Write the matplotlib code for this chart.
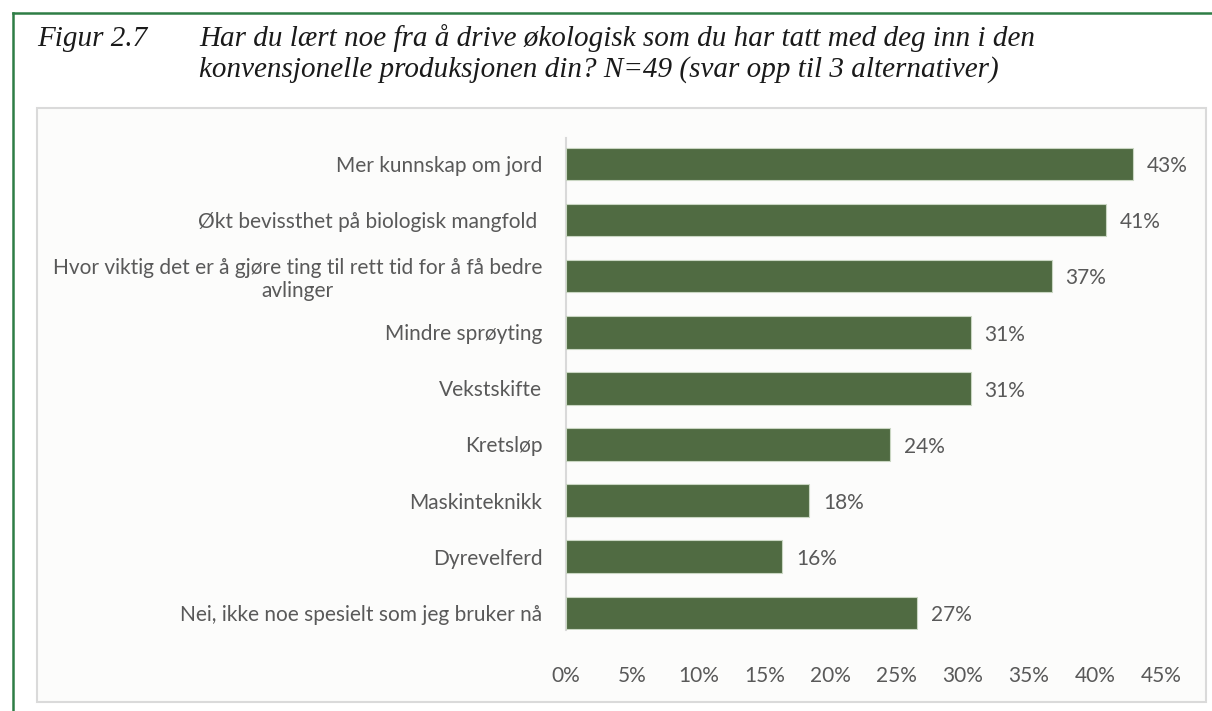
import matplotlib
matplotlib.use("Agg")
import matplotlib.pyplot as plt
from matplotlib.patches import Rectangle
from matplotlib.lines import Line2D

categories = [
    "Mer kunnskap om jord",
    "Økt bevissthet på biologisk mangfold ",
    "Hvor viktig det er å gjøre ting til rett tid for å få bedre\navlinger",
    "Mindre sprøyting",
    "Vekstskifte",
    "Kretsløp",
    "Maskinteknikk",
    "Dyrevelferd",
    "Nei, ikke noe spesielt som jeg bruker nå",
]
values = [42.86, 40.82, 36.73, 30.61, 30.61, 24.49, 18.37, 16.33, 26.53]
xticks = [0, 5, 10, 15, 20, 25, 30, 35, 40, 45]
title_fig = "Figur 2.7"
title_lines = ["Har du lært noe fra å drive økologisk som du har tatt med deg inn i den",
               "konvensjonelle produksjonen din? N=49 (svar opp til 3 alternativer)"]

W, H = 1212, 711
fig = plt.figure(figsize=(W / 100, H / 100), dpi=100)
fig.patch.set_facecolor("white")

def fx(px):
    return px / W

def fy(py):
    return 1 - py / H

# green frame
fig.add_artist(Line2D([fx(13), fx(1212)], [fy(13), fy(13)], color="#2e7d45", lw=1.8))
fig.add_artist(Line2D([fx(13), fx(13)], [fy(13), fy(711)], color="#2e7d45", lw=1.8))

# chart box
fig.add_artist(Rectangle((fx(37), fy(702)), fx(1206) - fx(37), fy(108) - fy(702),
                         facecolor="#fcfcfb", edgecolor="#dadada", lw=1.5, zorder=0))

# title
tfont = dict(family="Liberation Serif", style="italic", fontsize=21,
             color="#1a1a1a", va="baseline", ha="left")
fig.text(fx(37), fy(46), title_fig, **tfont)
fig.text(fx(199), fy(46), title_lines[0], **tfont)
fig.text(fx(199), fy(77), title_lines[1], **tfont)

x0, x1 = 566, 1161
ytop, ybot = 138, 630
ax = fig.add_axes([fx(x0), fy(ybot), fx(x1) - fx(x0), (ybot - ytop) / H])
ax.set_facecolor("none")

pos = list(range(len(categories)))
ax.barh(pos, values, height=0.58, color="#506b42", edgecolor="#c9d6c2", lw=0.8, zorder=3)

ax.set_xlim(0, 45)
step = 56.1
ax.set_ylim((ybot - 164) / step, -(164 - ytop) / step)
ax.set_xticks(xticks)
ax.set_xticklabels([f"{t}%" for t in xticks])
ax.set_yticks(pos)
ax.set_yticklabels(categories, multialignment="center", linespacing=1.2)

fs = 15
for p, v in zip(pos, values):
    ax.text(v + 1.05, p + 0.04, f"{v:.0f}%", va="center", ha="left", fontsize=fs,
            family="Lato", color="#595959")

for s in ["top", "right", "bottom"]:
    ax.spines[s].set_visible(False)
ax.spines["left"].set_color("#d9d9d9")
ax.spines["left"].set_linewidth(1.5)
ax.tick_params(axis="both", length=0, labelsize=fs, labelcolor="#595959")
ax.tick_params(axis="x", pad=26)
ax.tick_params(axis="y", pad=17)
for lbl in ax.get_xticklabels() + ax.get_yticklabels():
    lbl.set_family("Lato")

fig.savefig("out.png", dpi=100)
